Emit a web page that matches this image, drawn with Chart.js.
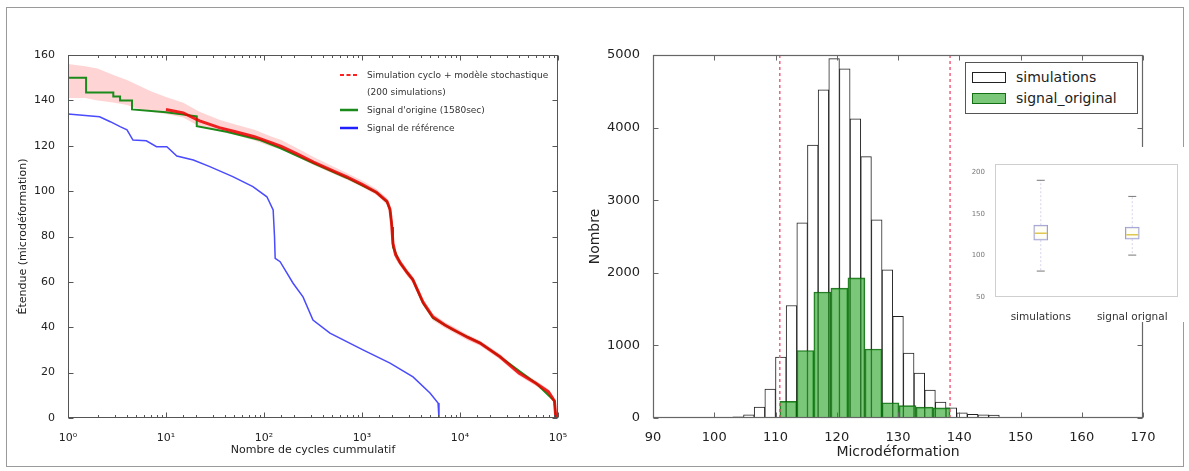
<!DOCTYPE html>
<html>
<head>
<meta charset="utf-8">
<script src="https://cdn.jsdelivr.net/npm/chart.js@4.4.1/dist/chart.umd.min.js"></script>
<style>
html,body{margin:0;padding:0;background:#fff;}
#wrap{position:relative;width:1189px;height:471px;overflow:hidden;font-family:'DejaVu Sans',sans-serif;color:#222;}
canvas{position:absolute;}
.abs{position:absolute;white-space:nowrap;}
</style>
</head>
<body>
<div id="wrap">
  <div class="abs" style="left:6px;top:7px;width:1176px;height:458px;border:1px solid #9a9a9a;"></div>
  <canvas id="left" width="590" height="471" style="left:0;top:0;"></canvas>
  <canvas id="right" width="609" height="471" style="left:580px;top:0;"></canvas>
  <canvas id="inset" width="221" height="175" style="left:968px;top:147px;background:#fff;"></canvas>

  <!-- left legend -->
  <svg class="abs" style="left:338px;top:68px;" width="24" height="66">
    <line x1="2" y1="7" x2="20" y2="7" stroke="#ff2020" stroke-width="2.2" stroke-dasharray="4,2.5"/>
    <line x1="2" y1="42" x2="20" y2="42" stroke="#1a8a1a" stroke-width="2.5"/>
    <line x1="2" y1="60" x2="20" y2="60" stroke="#2020ff" stroke-width="2.5"/>
  </svg>
  <div class="abs" style="left:367px;top:69px;font-size:9px;line-height:12px;color:#333;">Simulation cyclo + modèle stochastique</div>
  <div class="abs" style="left:367px;top:86px;font-size:9px;line-height:12px;color:#333;">(200 simulations)</div>
  <div class="abs" style="left:367px;top:104px;font-size:9px;line-height:12px;color:#333;">Signal d'origine (1580sec)</div>
  <div class="abs" style="left:367px;top:122px;font-size:9px;line-height:12px;color:#333;">Signal de référence</div>

  <!-- right legend -->
  <div class="abs" style="left:965px;top:62px;width:171px;height:50px;border:1px solid #555;background:#fff;"></div>
  <div class="abs" style="left:972px;top:72px;width:32px;height:9px;border:1px solid #222;background:#fff;"></div>
  <div class="abs" style="left:972px;top:93px;width:32px;height:9px;border:1px solid rgba(0,95,0,0.85);background:rgba(40,165,40,0.62);"></div>
  <div class="abs" style="left:1016px;top:68px;font-size:14px;line-height:18px;color:#222;">simulations</div>
  <div class="abs" style="left:1016px;top:89px;font-size:14px;line-height:18px;color:#222;">signal_original</div>
</div>
<script>
// ---------- LEFT CHART DATA ----------
const cycleTickLabels = ['10⁰', '10¹', '10²', '10³', '10⁴', '10⁵'];
const simCycles = [1, 1.5, 2, 3, 4, 5, 7, 10, 15, 22, 35, 50, 80, 120, 150, 220, 320, 500, 700, 1000, 1400, 1800, 1930, 2000, 2070, 2200, 2450, 2900, 3300, 4200, 5300, 7000, 8500, 12000, 16000, 25600, 40000, 60000, 80000, 92000, 95000];
const simMedian = [150, 148.5, 146, 144, 142, 140.5, 138.5, 136, 134.5, 131, 128, 126.3, 124, 121.3, 119.7, 116.3, 112.8, 109, 106.3, 103, 99.5, 95.5, 92, 86, 77, 72, 68.5, 64, 61, 51, 44.5, 41, 39, 35.5, 33, 27, 19.8, 15.2, 11.5, 7.5, 0];
const simUpper = [156, 155, 154, 151, 149, 147, 144, 141.5, 139, 135, 131.5, 129.5, 127, 124, 122.5, 118.8, 115, 111, 108, 104.7, 101, 97, 94, 89, 80, 74, 70, 65.5, 62.5, 52.5, 46, 42.3, 40.3, 36.8, 34.2, 28.2, 21, 16.4, 12.7, 8.7, 0];
const simLower = [141, 141, 140, 139, 138, 136.5, 135, 134, 132.5, 128.5, 126.3, 124.8, 122.3, 119.6, 118.3, 115, 111.5, 107.8, 105, 101.8, 98.3, 94, 90, 83, 74, 70, 67, 62.5, 59.5, 49.5, 43, 39.7, 37.7, 34.2, 31.8, 25.8, 18.6, 14, 10.3, 6.3, 0];
const greenCycles = [1, 1.53, 1.53, 2.9, 2.9, 3.4, 3.4, 4.5, 4.5, 10, 20.6, 20.6, 41.5, 91, 146, 316, 703, 1422, 1799, 1932, 2024, 2071, 2443, 3314, 4190, 5300, 8490, 16000, 25600, 60000, 92000, 95000];
const greenRange = [150, 150, 143.5, 143.5, 141.7, 141.7, 140, 140, 136, 134.8, 133, 128.6, 126.2, 122.5, 119, 112.4, 105.8, 99.2, 95.2, 91.7, 84.2, 75.4, 68.3, 60.8, 50.7, 44.1, 38.8, 33.1, 27, 15.2, 7.5, 0];
const blueCycles = [1, 2.1, 2.7, 3.4, 4, 4.6, 6.3, 8, 10.2, 12.9, 19, 28, 48, 77, 107, 124, 128, 130, 146, 198, 250, 316, 471, 1023, 1932, 3314, 4940, 5970, 6100];
const blueRange = [134, 132.8, 130.6, 128.4, 127, 122.5, 122.2, 119.6, 119.6, 115.5, 113.7, 110.8, 106.4, 102, 97.5, 91.7, 80, 70.4, 68.9, 59.4, 53.4, 43.2, 37.4, 30, 24.2, 18.1, 11, 6.6, 0];

// ---------- RIGHT CHART DATA ----------
const simBinCenters = [103.91, 105.65, 107.39, 109.13, 110.87, 112.61, 114.35, 116.09, 117.83, 119.57, 121.31, 123.05, 124.79, 126.53, 128.27, 130.01, 131.75, 133.49, 135.23, 136.97, 138.71, 140.45, 142.19, 143.93, 145.67];
const simCounts = [15, 45, 150, 400, 840, 1550, 2690, 3760, 4520, 4950, 4810, 4120, 3600, 2730, 2040, 1400, 895, 620, 385, 220, 140, 70, 50, 45, 40];
const signalBinCenters = [112.09, 114.87, 117.65, 120.43, 123.21, 125.99, 128.77, 131.55, 134.33, 137.11];
const signalCounts = [230, 930, 1735, 1790, 1930, 950, 210, 170, 150, 140];
const limitValues = [110.7, 138.5];

// ---------- INSET DATA ----------
const boxLabels = ['simulations', 'signal orignal'];
const boxQ1 = [118.4, 119.6];
const boxQ3 = [136.4, 134];
const boxMedian = [126.8, 125];
const whiskerLow = [81.2, 100.4];
const whiskerHigh = [190.4, 171];

Chart.defaults.font.family = "'DejaVu Sans', sans-serif";
Chart.defaults.color = '#222';
Chart.defaults.animation = false;

const pts = (xs, ys) => xs.map((x, i) => ({x: x, y: ys[i]}));
const isPow10 = v => { const e = Math.log10(v); return Math.abs(e - Math.round(e)) < 1e-6; };
const plain = v => String(v);

const framePlugin = {
  id: 'frame',
  afterDatasetsDraw(chart, args, o) {
    const {ctx, chartArea: a} = chart;
    ctx.save();
    ctx.strokeStyle = o.color || '#444';
    ctx.lineWidth = o.width || 1;
    const L = Math.round(a.left) + 0.5, T = Math.round(a.top) + 0.5;
    const R = Math.round(a.right) - 0.5, B = Math.round(a.bottom) - 0.5;
    ctx.strokeRect(L, T, R - L, B - T);
    if (o.ticks) {
      ctx.lineWidth = 1;
      ctx.beginPath();
      const xs = chart.scales.x, ys = chart.scales.y;
      xs.ticks.forEach(t => {
        if (t.value < xs.min || t.value > xs.max) return;
        const px = Math.round(xs.getPixelForValue(t.value)) + 0.5;
        let len = o.len;
        if (xs.type === 'logarithmic' && !isPow10(t.value)) len = o.len / 2;
        ctx.moveTo(px, B); ctx.lineTo(px, B - len);
        ctx.moveTo(px, T); ctx.lineTo(px, T + len);
      });
      ys.ticks.forEach(t => {
        const py = Math.round(ys.getPixelForValue(t.value)) + 0.5;
        ctx.moveTo(L, py); ctx.lineTo(L + o.len, py);
        ctx.moveTo(R, py); ctx.lineTo(R - o.len, py);
      });
      ctx.stroke();
    }
    ctx.restore();
  }
};

// ---------- LEFT CHART ----------
new Chart(document.getElementById('left'), {
  type: 'line',
  data: {
    datasets: [
      {label: 'simUpper', data: pts(simCycles, simUpper), borderWidth: 0, pointRadius: 0, fill: '+1', backgroundColor: 'rgba(255,40,40,0.2)', order: 6},
      {label: 'simLower', data: pts(simCycles, simLower), borderWidth: 0, pointRadius: 0, fill: false, order: 6},
      {label: "Signal d'origine (1580sec)", data: pts(greenCycles, greenRange), borderColor: '#1a8a1a', borderWidth: 2, pointRadius: 0, fill: false, order: 3},
      {label: 'Simulation cyclo + modèle stochastique', data: pts(simCycles.slice(7), simMedian.slice(7)), borderColor: 'rgba(235,0,0,0.85)', borderWidth: 3, pointRadius: 0, fill: false, order: 2},
      {label: 'Signal de référence', data: pts(blueCycles, blueRange), borderColor: '#4a4aff', borderWidth: 1.5, pointRadius: 0, fill: false, order: 1}
    ]
  },
  options: {
    responsive: false,
    devicePixelRatio: 1,
    layout: {padding: {left: 0, top: 55, right: 32, bottom: 0}},
    elements: {line: {tension: 0}},
    plugins: {
      legend: {display: false},
      tooltip: {enabled: false},
      frame: {color: '#555', width: 1, ticks: true, len: 5}
    },
    scales: {
      x: {
        type: 'logarithmic', min: 1, max: 100000,
        grid: {display: false}, border: {display: false},
        ticks: {autoSkip: false, maxRotation: 0, padding: 6, color: '#222', font: {size: 11},
          callback: v => isPow10(v) ? cycleTickLabels[Math.round(Math.log10(v))] : ''},
        title: {display: true, text: 'Nombre de cycles cummulatif', color: '#222', font: {size: 11}, padding: {top: 0, bottom: 14}},
        afterFit(s) { s.height = 53; }
      },
      y: {
        min: 0, max: 160,
        grid: {display: false}, border: {display: false},
        ticks: {stepSize: 20, padding: 5, color: '#222', font: {size: 11}, callback: plain},
        title: {display: true, text: 'Étendue (microdéformation)', color: '#222', font: {size: 11}, padding: {top: 17, bottom: 0}},
        afterFit(s) { s.width = 68; }
      }
    }
  },
  plugins: [framePlugin]
});

// ---------- RIGHT CHART ----------
new Chart(document.getElementById('right'), {
  type: 'bar',
  data: {
    datasets: [
      {type: 'line', label: 'lim1', data: [{x: limitValues[0], y: 0}, {x: limitValues[0], y: 5000}], xAxisID: 'x', borderColor: '#f2607e', borderDash: [3, 3], borderWidth: 1.5, pointRadius: 0, order: 0},
      {type: 'line', label: 'lim2', data: [{x: limitValues[1], y: 0}, {x: limitValues[1], y: 5000}], xAxisID: 'x', borderColor: '#f2607e', borderDash: [3, 3], borderWidth: 1.5, pointRadius: 0, order: 0},
      {type: 'bar', label: 'signal_original', data: pts(signalBinCenters, signalCounts), xAxisID: 'x2',
        backgroundColor: 'rgba(40,165,40,0.62)', borderColor: 'rgba(0,95,0,0.85)', borderWidth: 1,
        barPercentage: 1, categoryPercentage: 1, grouped: false, order: 1},
      {type: 'bar', label: 'simulations', data: pts(simBinCenters, simCounts), xAxisID: 'x',
        backgroundColor: '#ffffff', borderColor: '#222', borderWidth: 1,
        barPercentage: 1, categoryPercentage: 1, grouped: false, order: 2}
    ]
  },
  options: {
    responsive: false,
    devicePixelRatio: 1,
    layout: {padding: {left: 0, top: 55, right: 46, bottom: 0}},
    plugins: {
      legend: {display: false},
      tooltip: {enabled: false},
      frame: {color: '#666', width: 1.2, ticks: true, len: 5}
    },
    scales: {
      x: {
        type: 'linear', min: 90, max: 170, offset: false,
        grid: {display: false}, border: {display: false},
        ticks: {stepSize: 10, padding: 4, color: '#222', font: {size: 13}, maxRotation: 0, callback: plain},
        title: {display: true, text: 'Microdéformation', color: '#222', font: {size: 14}, padding: {top: 0, bottom: 10}},
        afterFit(s) { s.height = 53; }
      },
      x2: {
        type: 'linear', min: 90, max: 170, offset: false, display: false, axis: 'x',
        ticks: {stepSize: 10}
      },
      y: {
        min: 0, max: 5000,
        grid: {display: false}, border: {display: false},
        ticks: {stepSize: 1000, padding: 5, color: '#222', font: {size: 13}, callback: plain},
        title: {display: true, text: 'Nombre', color: '#222', font: {size: 14}, padding: {top: 7, bottom: 0}},
        afterFit(s) { s.width = 73; }
      }
    }
  },
  plugins: [framePlugin]
});

// ---------- INSET BOX PLOT ----------
const whiskerSets = [];
for (let i = 0; i < boxLabels.length; i++) {
  whiskerSets.push({type: 'line', label: 'wh' + i, data: [{x: boxLabels[i], y: boxQ3[i]}, {x: boxLabels[i], y: whiskerHigh[i]}], borderColor: '#d4d4ec', borderDash: [2, 2], borderWidth: 1, pointRadius: 0, order: 3});
  whiskerSets.push({type: 'line', label: 'wl' + i, data: [{x: boxLabels[i], y: boxQ1[i]}, {x: boxLabels[i], y: whiskerLow[i]}], borderColor: '#d4d4ec', borderDash: [2, 2], borderWidth: 1, pointRadius: 0, order: 3});
}
new Chart(document.getElementById('inset'), {
  type: 'bar',
  data: {
    labels: boxLabels,
    datasets: [
      ...whiskerSets,
      {type: 'line', label: 'capHigh', data: whiskerHigh, showLine: false, pointStyle: 'line', pointRadius: 4, pointBorderColor: '#777', pointBorderWidth: 1, order: 1},
      {type: 'line', label: 'capLow', data: whiskerLow, showLine: false, pointStyle: 'line', pointRadius: 4, pointBorderColor: '#777', pointBorderWidth: 1, order: 1},
      {type: 'line', label: 'median', data: boxMedian, showLine: false, pointStyle: 'line', pointRadius: 6, pointBorderColor: '#e0c850', pointBorderWidth: 1.5, order: 0},
      {type: 'bar', label: 'box', data: boxQ1.map((q, i) => [q, boxQ3[i]]), backgroundColor: 'rgba(255,255,240,0.6)', borderColor: '#9a9ad4', borderWidth: 1, borderSkipped: false, barThickness: 14, order: 2}
    ]
  },
  options: {
    responsive: false,
    devicePixelRatio: 1,
    layout: {padding: {left: 0, top: 17, right: 11, bottom: 0}},
    plugins: {
      legend: {display: false},
      tooltip: {enabled: false},
      frame: {color: '#cfcfcf', width: 1, ticks: false}
    },
    scales: {
      x: {
        grid: {display: false}, border: {display: false},
        ticks: {padding: 6, color: '#333', font: {size: 10.5}, maxRotation: 0},
        afterFit(s) { s.height = 25; }
      },
      y: {
        min: 50, max: 210,
        grid: {display: false}, border: {display: false},
        ticks: {stepSize: 50, padding: 2, color: '#777', font: {size: 7}, callback: v => (v % 50 === 0 ? String(v) : '')},
        afterFit(s) { s.width = 27; }
      }
    }
  },
  plugins: [framePlugin]
});
</script>
</body>
</html>
